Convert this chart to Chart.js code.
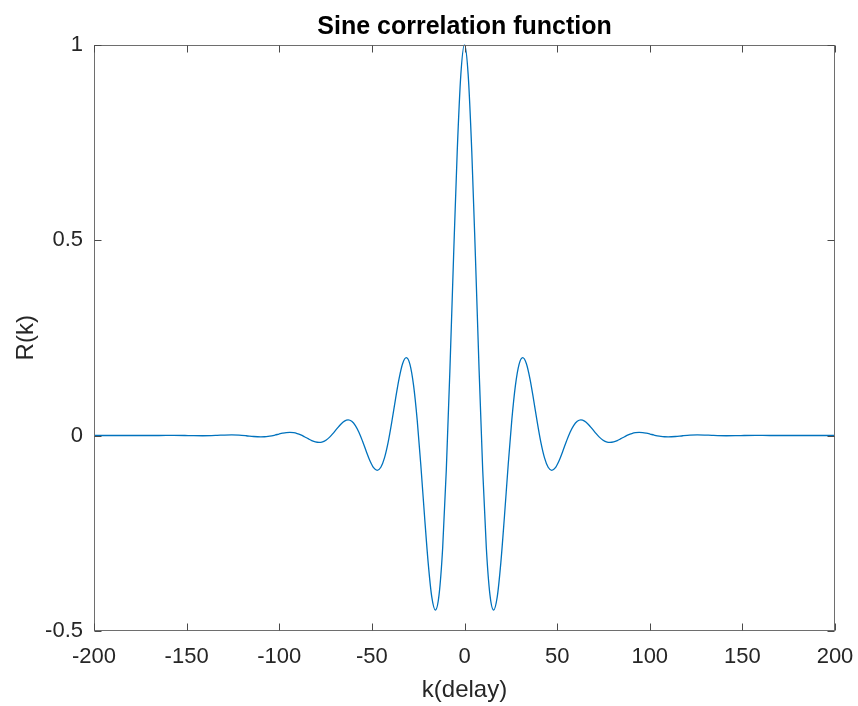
<!DOCTYPE html>
<html><head><meta charset="utf-8">
<script src="https://cdn.jsdelivr.net/npm/chart.js@4/dist/chart.umd.min.js"></script>
<style>html,body{margin:0;padding:0;background:#fff;}canvas{display:block;}</style>
</head><body>
<canvas id="c" width="858" height="706"></canvas>
<script>
// delay values (k) and correlation values R(k)
const kDelay = [
  -200, -164.9, -157.08, -149.2, -141.37, -133.52, -129.59, -125.66, -121.74, -117.81,
  -113.88, -109.96, -107.99, -106.03, -104.07, -102.1, -100.14, -98.17, -96.21, -94.25,
  -92.28, -90.32, -88.36, -86.39, -84.43, -82.47, -80.5, -78.54, -76.58, -74.61,
  -72.65, -70.69, -68.72, -66.76, -64.8, -62.83, -60.87, -58.9, -56.94, -54.98,
  -53.01, -51.05, -49.09, -47.12, -45.16, -43.2, -41.23, -39.27, -37.31, -35.34,
  -33.38, -31.42, -29.45, -27.49, -25.53, -23.56, -21.6, -19.63, -17.67, -15.71,
  -13.74, -11.78, -9.82, -7.85, -5.89, -3.93, -1.96,
  0,
  1.96, 3.93, 5.89, 7.85, 9.82, 11.78, 13.74, 15.71, 17.67, 19.63,
  21.6, 23.56, 25.53, 27.49, 29.45, 31.42, 33.38, 35.34, 37.31, 39.27,
  41.23, 43.2, 45.16, 47.12, 49.09, 51.05, 53.01, 54.98, 56.94, 58.9,
  60.87, 62.83, 64.8, 66.76, 68.72, 70.69, 72.65, 74.61, 76.58, 78.54,
  80.5, 82.47, 84.43, 86.39, 88.36, 90.32, 92.28, 94.25, 96.21, 98.17,
  100.14, 102.1, 104.07, 106.03, 107.99, 109.96, 113.88, 117.81, 121.74, 125.66,
  129.59, 133.52, 141.37, 149.2, 157.08, 164.9, 200
];
const rValues = [
  0, 0, 0.0003, -0.0001, -0.0007, 0.0003, 0.0012, 0.0016, 0.001, -0.0006,
  -0.0026, -0.0035, -0.0032, -0.0023, -0.0007, 0.0014, 0.0037, 0.0058, 0.0074, 0.0079,
  0.0073, 0.0051, 0.0016, -0.0031, -0.0081, -0.0129, -0.0164, -0.0177, -0.0162, -0.0114,
  -0.0035, 0.0068, 0.0182, 0.0289, 0.0367, 0.0398, 0.0363, 0.0255, 0.0078, -0.0153,
  -0.0408, -0.0647, -0.0823, -0.089, -0.0813, -0.0572, -0.0175, 0.0342, 0.0913, 0.1449,
  0.1842, 0.1993, 0.182, 0.1281, 0.0392, -0.0767, -0.2046, -0.3244, -0.4127, -0.4465,
  -0.4076, -0.287, -0.0878, 0.1717, 0.4583, 0.7265, 0.9243,
  1,
  0.9243, 0.7265, 0.4583, 0.1717, -0.0878, -0.287, -0.4076, -0.4465, -0.4127, -0.3244,
  -0.2046, -0.0767, 0.0392, 0.1281, 0.182, 0.1993, 0.1842, 0.1449, 0.0913, 0.0342,
  -0.0175, -0.0572, -0.0813, -0.089, -0.0823, -0.0647, -0.0408, -0.0153, 0.0078, 0.0255,
  0.0363, 0.0398, 0.0367, 0.0289, 0.0182, 0.0068, -0.0035, -0.0114, -0.0162, -0.0177,
  -0.0164, -0.0129, -0.0081, -0.0031, 0.0016, 0.0051, 0.0073, 0.0079, 0.0074, 0.0058,
  0.0037, 0.0014, -0.0007, -0.0023, -0.0032, -0.0035, -0.0026, -0.0006, 0.001, 0.0016,
  0.0012, 0.0003, -0.0007, -0.0001, 0.0003, 0, 0
];
const xTicks = [-200, -150, -100, -50, 0, 50, 100, 150, 200];
const yTicks = [-0.5, 0, 0.5, 1];
const chartTitle = 'Sine correlation function';

const points = kDelay.map((k, i) => ({x: k, y: rValues[i]}));
const FAM = '"Liberation Sans", Arial, Helvetica, sans-serif';

const boxPlugin = {
  id: 'box',
  afterDatasetsDraw(chart) {
    const {ctx, chartArea: a, scales: {x, y}} = chart;
    const L = Math.round(a.left) + 0.5, R = Math.round(a.right) - 0.5;
    const T = Math.round(a.top) + 0.5, B = Math.round(a.bottom) - 0.5;
    ctx.save();
    ctx.strokeStyle = '#6e6e6e';
    ctx.lineWidth = 1;
    ctx.strokeRect(L, T, R - L, B - T);
    ctx.strokeStyle = '#4a4a4a';
    ctx.beginPath();
    const tl = 7;
    xTicks.forEach(v => {
      const px = Math.round(x.getPixelForValue(v)) + 0.5;
      ctx.moveTo(px, B); ctx.lineTo(px, B - tl);
      ctx.moveTo(px, T); ctx.lineTo(px, T + tl);
    });
    yTicks.forEach(v => {
      const py = Math.round(y.getPixelForValue(v)) + 0.5;
      ctx.moveTo(L, py); ctx.lineTo(L + tl, py);
      ctx.moveTo(R, py); ctx.lineTo(R - tl, py);
    });
    ctx.stroke();
    // title centred over the axes, as in the reference
    ctx.fillStyle = '#000';
    ctx.font = 'bold 25px ' + FAM;
    ctx.textAlign = 'center';
    ctx.textBaseline = 'middle';
    ctx.fillText(chartTitle, (a.left + a.right) / 2, 27);
    ctx.restore();
  }
};

new Chart(document.getElementById('c'), {
  type: 'line',
  data: {
    datasets: [{
      data: points,
      borderColor: '#0072BD',
      borderWidth: 1.3,
      pointRadius: 0,
      fill: false,
      cubicInterpolationMode: 'monotone'
    }]
  },
  options: {
    responsive: false,
    animation: false,
    devicePixelRatio: 1,
    layout: {padding: {left: 0, right: 23, top: 44.5, bottom: 0}},
    plugins: {
      legend: {display: false},
      tooltip: {enabled: false},
      title: {display: false}
    },
    scales: {
      x: {
        type: 'linear', min: -200, max: 200,
        afterBuildTicks: s => { s.ticks = xTicks.map(v => ({value: v})); },
        grid: {display: false, drawTicks: false},
        border: {display: false},
        ticks: {color: '#262626', font: {family: FAM, size: 22}, padding: 13, maxRotation: 0, autoSkip: false,
                callback: v => String(v)},
        title: {display: true, text: 'k(delay)', color: '#262626', font: {family: FAM, size: 24}, padding: {top: 0, bottom: 1}},
        afterFit: s => { s.height = 75; s.paddingLeft = 0; s.paddingRight = 0; }
      },
      y: {
        type: 'linear', min: -0.5, max: 1,
        afterBuildTicks: s => { s.ticks = yTicks.map(v => ({value: v})); },
        grid: {display: false, drawTicks: false},
        border: {display: false},
        ticks: {color: '#262626', font: {family: FAM, size: 22}, padding: 11, autoSkip: false,
                callback: v => String(v)},
        title: {display: true, text: 'R(k)', color: '#262626', font: {family: FAM, size: 24}, padding: {top: 12, bottom: 0}},
        afterFit: s => { s.width = 94; s.paddingTop = 0; s.paddingBottom = 0; }
      }
    }
  },
  plugins: [boxPlugin]
});
</script>
</body></html>
